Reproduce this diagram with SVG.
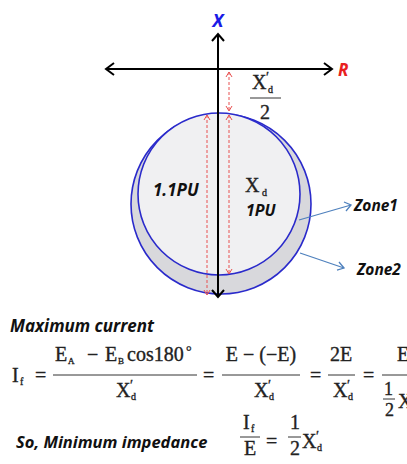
<svg xmlns="http://www.w3.org/2000/svg" width="407" height="464" viewBox="0 0 407 464">
<defs>
<style>
.ax{stroke:#000;stroke-width:2;fill:none}
.circ{stroke:#2a2acb;stroke-width:1.6}
.dash{stroke:#e85050;stroke-width:1;stroke-dasharray:3,2;fill:none}
.dh{stroke:#e85050;stroke-width:1;fill:none}
.zl{stroke:#4f81bd;stroke-width:1.3;fill:none}
.lab{font-family:"Open Sans","Liberation Sans",sans-serif;font-weight:bold;font-style:italic;fill:#111}
.m{font-family:"Liberation Serif","DejaVu Serif",serif;fill:#222;stroke:#222;stroke-width:0.35}
.fl{stroke:#333;stroke-width:1}
</style>
</defs>
<g id="zone2">
<circle class="circ" cx="221" cy="204" r="90" fill="#d8d8dc"/>
</g>
<g id="zone1">
<circle class="circ" cx="219" cy="194" r="81" fill="#f0f0f2"/>
</g>
<g id="axes">
<line class="ax" x1="106" y1="69" x2="332" y2="69"/>
<polyline class="ax" points="114,63 106,69 114,75"/>
<polyline class="ax" points="324,63 332,69 324,75"/>
<line class="ax" x1="218" y1="34" x2="218" y2="297"/>
<polyline class="ax" points="212,41 218,34 224,41"/>
<polyline class="ax" points="212,290 218,297 224,290"/>
<text x="218" y="27" text-anchor="middle" class="lab" font-size="18" style="fill:#1a1ae6">X</text>
<text x="338" y="76" class="lab" font-size="17" style="fill:#e82020">R</text>
</g>
<g id="dims">
<line class="dash" x1="229" y1="72" x2="229" y2="111"/>
<polyline class="dh" points="226,77 229,72 232,77"/>
<polyline class="dh" points="226,106 229,111 232,106"/>
<line class="dash" x1="207" y1="115" x2="207" y2="295"/>
<polyline class="dh" points="204,120 207,115 210,120"/>
<polyline class="dh" points="204,290 207,295 210,290"/>
<line class="dash" x1="229" y1="115" x2="229" y2="274"/>
<polyline class="dh" points="226,120 229,115 232,120"/>
<polyline class="dh" points="226,269 229,274 232,269"/>
</g>
<g id="xd2">
<text x="252" y="89" class="m" font-size="20">X</text>
<text x="266" y="82" class="m" font-size="14">′</text>
<text x="268" y="93" class="m" font-size="10">d</text>
<line class="fl" x1="250" y1="98" x2="281" y2="98"/>
<text x="265" y="119" text-anchor="middle" class="m" font-size="20">2</text>
</g>
<g id="labels">
<text x="153" y="196" class="lab" font-size="17">1.1PU</text>
<text x="245" y="192" class="m" font-size="20">X</text>
<text x="262" y="196" class="m" font-size="10">d</text>
<text x="246" y="216" class="lab" font-size="16">1PU</text>
</g>
<g id="connectors">
<line class="zl" x1="299" y1="220" x2="351" y2="205"/>
<polyline class="zl" points="344,202 351,205 346,211"/>
<line class="zl" x1="300" y1="253" x2="344" y2="268"/>
<polyline class="zl" points="339,262 344,268 337,270"/>
</g>
<g id="zonelabels">
<text x="354" y="211" class="lab" font-size="15.5">Zone1</text>
<text x="357" y="275" class="lab" font-size="15.5">Zone2</text>
</g>
<g id="eq1">
<text x="10" y="332" class="lab" font-size="17">Maximum current</text>
<text x="12" y="382" class="m" font-size="20">I</text>
<text x="20" y="385" class="m" font-size="10">f</text>
<text x="35" y="382" class="m" font-size="20">=</text>
<text x="55" y="361" class="m" font-size="20">E</text>
<text x="68" y="364" class="m" font-size="9">A</text>
<text x="87" y="361" class="m" font-size="20">−</text>
<text x="105" y="361" class="m" font-size="20">E</text>
<text x="118" y="364" class="m" font-size="9">B</text>
<text x="127" y="361" class="m" font-size="20">cos180</text>
<text x="186" y="356" class="m" font-size="14">°</text>
<line class="fl" x1="53" y1="375" x2="197" y2="375"/>
<text x="116" y="397" class="m" font-size="20">X</text>
<text x="130" y="390" class="m" font-size="14">′</text>
<text x="131" y="400" class="m" font-size="10">d</text>
<text x="203" y="382" class="m" font-size="20">=</text>
<text x="261" y="361" text-anchor="middle" class="m" font-size="20">E − (−E)</text>
<line class="fl" x1="222" y1="375" x2="300" y2="375"/>
<text x="254" y="397" class="m" font-size="20">X</text>
<text x="268" y="390" class="m" font-size="14">′</text>
<text x="269" y="400" class="m" font-size="10">d</text>
<text x="310" y="382" class="m" font-size="20">=</text>
<text x="341" y="361" text-anchor="middle" class="m" font-size="20">2E</text>
<line class="fl" x1="328" y1="375" x2="355" y2="375"/>
<text x="333" y="397" class="m" font-size="20">X</text>
<text x="347" y="390" class="m" font-size="14">′</text>
<text x="348" y="400" class="m" font-size="10">d</text>
<text x="363" y="382" class="m" font-size="20">=</text>
<line class="fl" x1="382" y1="375" x2="407" y2="375"/>
<text x="397" y="361" class="m" font-size="20">E</text>
<text x="384" y="395" class="m" font-size="18">1</text>
<line class="fl" x1="383" y1="399" x2="395" y2="399"/>
<text x="385" y="416" class="m" font-size="18">2</text>
<text x="398" y="408" class="m" font-size="20">X</text>
</g>
<g id="eq2">
<text x="16" y="448" class="lab" font-size="16.5">So, Minimum impedance</text>
<text x="243" y="429" class="m" font-size="20">I</text>
<text x="251" y="432" class="m" font-size="10">f</text>
<line class="fl" x1="240" y1="437" x2="260" y2="437"/>
<text x="250" y="455" text-anchor="middle" class="m" font-size="20">E</text>
<text x="266" y="448" class="m" font-size="20">=</text>
<text x="290" y="429" class="m" font-size="20">1</text>
<line class="fl" x1="288" y1="437" x2="301" y2="437"/>
<text x="290" y="455" class="m" font-size="20">2</text>
<text x="302" y="448" class="m" font-size="20">X</text>
<text x="316" y="441" class="m" font-size="14">′</text>
<text x="317" y="451" class="m" font-size="10">d</text>
</g>
</svg>
